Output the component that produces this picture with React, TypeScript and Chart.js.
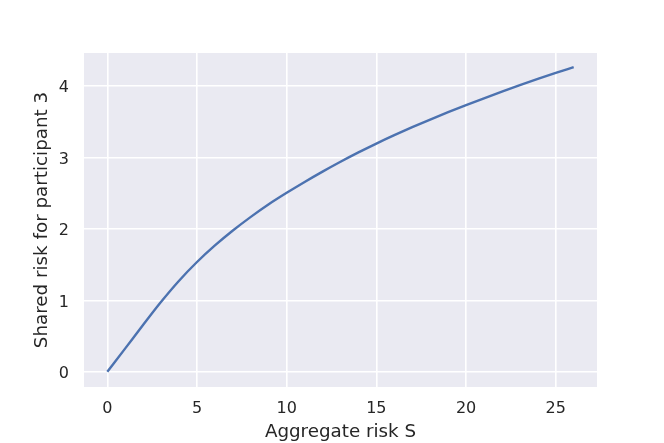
import React, { useEffect, useRef } from "react";
import { Chart, registerables } from "chart.js";

Chart.register(...registerables);

const xValues = [0, 1, 2, 3, 4, 5, 6, 7, 8, 9, 10, 11, 12, 13, 14, 15, 16, 17, 18, 19, 20, 21, 22, 23, 24, 25, 26];
const yValues = [0, 0.328, 0.658, 0.98, 1.275, 1.537, 1.769, 1.978, 2.169, 2.345, 2.505, 2.657, 2.802, 2.94, 3.071, 3.195, 3.312, 3.424, 3.531, 3.634, 3.733, 3.829, 3.922, 4.012, 4.099, 4.184, 4.265];
const xTicks = [0, 5, 10, 15, 20, 25];
const yTicks = [0, 1, 2, 3, 4];
const xLabel = "Aggregate risk S";
const yLabel = "Shared risk for participant 3";

const FONT = "'DejaVu Sans', sans-serif";
const TEXT = "#262626";

const bgPlugin = {
  id: "plotBg",
  beforeDraw(chart: any) {
    const { ctx, chartArea } = chart;
    ctx.save();
    ctx.fillStyle = "#EAEAF2";
    ctx.fillRect(chartArea.left, chartArea.top, chartArea.right - chartArea.left, chartArea.bottom - chartArea.top);
    ctx.restore();
  },
};

export default function App() {
  const ref = useRef<HTMLCanvasElement>(null);
  useEffect(() => {
    document.body.style.margin = "0";
    const chart = new Chart(ref.current!, {
      type: "line",
      data: {
        datasets: [
          {
            data: xValues.map((x, i) => ({ x, y: yValues[i] })),
            borderColor: "#4C72B0",
            borderWidth: 2.4,
            pointRadius: 0,
            cubicInterpolationMode: "monotone",
            fill: false,
          },
        ],
      },
      options: {
        animation: false,
        responsive: false,
        devicePixelRatio: 1,
        layout: { padding: { top: 53, right: 67, left: 0, bottom: 0 } },
        plugins: { legend: { display: false }, tooltip: { enabled: false } },
        scales: {
          x: {
            type: "linear",
            min: -1.3,
            max: 27.3,
            afterBuildTicks: (s: any) => {
              s.ticks = xTicks.map((v) => ({ value: v }));
            },
            afterFit: (s: any) => {
              s.height = 56;
            },
            grid: { color: "#FFFFFF", lineWidth: 1.6, drawTicks: false },
            border: { display: false },
            ticks: { color: TEXT, font: { family: FONT, size: 16 }, padding: 12, maxRotation: 0 },
            title: { display: true, text: xLabel, color: TEXT, font: { family: FONT, size: 18.3 }, padding: { top: 0, bottom: 0 } },
          },
          y: {
            type: "linear",
            min: -0.2125,
            max: 4.4625,
            afterBuildTicks: (s: any) => {
              s.ticks = yTicks.map((v) => ({ value: v }));
            },
            afterFit: (s: any) => {
              s.width = 84;
            },
            grid: { color: "#FFFFFF", lineWidth: 1.6, drawTicks: false },
            border: { display: false },
            ticks: { color: TEXT, font: { family: FONT, size: 16 }, padding: 15, labelOffset: 2 },
            title: { display: true, text: yLabel, color: TEXT, font: { family: FONT, size: 18.3 }, padding: { top: 31, bottom: 0 } },
          },
        },
      },
      plugins: [bgPlugin],
    });
    return () => chart.destroy();
  }, []);
  return (
    <div style={{ position: "absolute", left: 0, top: 0, width: 664, height: 443, background: "#fff" }}>
      <canvas ref={ref} width={664} height={443} style={{ width: 664, height: 443 }} />
    </div>
  );
}
